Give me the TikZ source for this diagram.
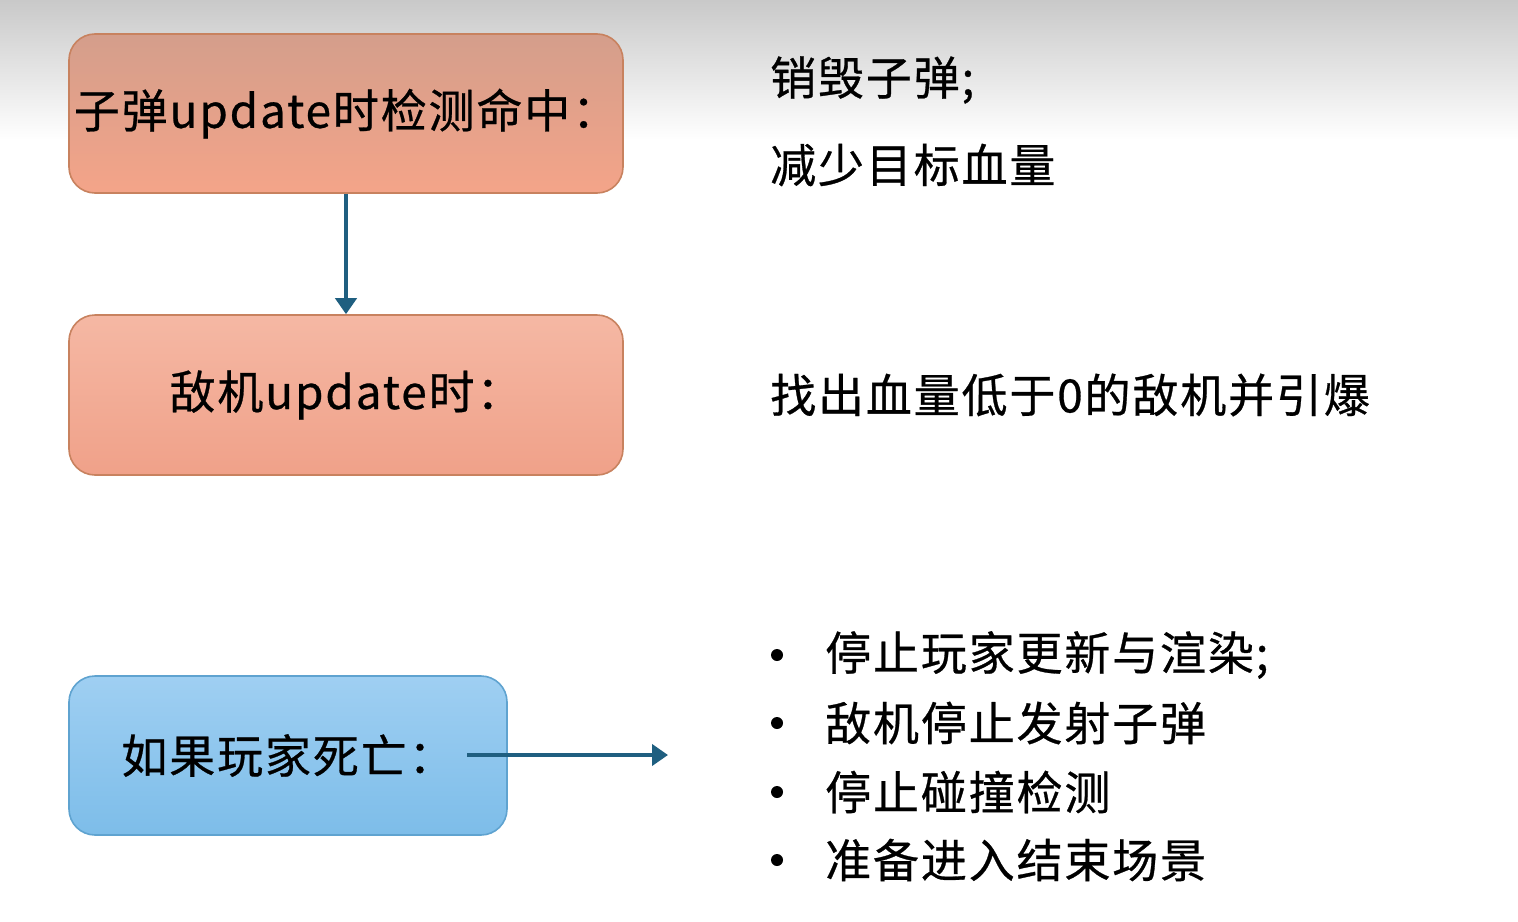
\documentclass[tikz,border=0pt]{standalone}
\usepackage{fontspec}
\setmainfont{Noto Sans CJK SC}[LetterSpace=4, FakeBold=0.6]
\usetikzlibrary{arrows.meta}
\definecolor{arrowblue}{HTML}{1F5F80}
\definecolor{hitTop}{HTML}{D49E8B}
\definecolor{hitBot}{HTML}{F4A489}
\definecolor{enemyTop}{HTML}{F5B8A4}
\definecolor{enemyBot}{HTML}{F0A189}
\definecolor{boxEdge}{HTML}{C8825F}
\definecolor{deadTop}{HTML}{9FCFF2}
\definecolor{deadBot}{HTML}{7DBDE9}
\definecolor{deadEdge}{HTML}{5FA3D0}
\definecolor{skyTop}{HTML}{C9C9C9}
\tikzset{
  stagebox/.style={draw, line width=1.6pt, rounded corners=26pt,
    inner sep=0pt, font=\fontsize{46}{52}\selectfont},
  note/.style={anchor=west, inner sep=0pt, font=\fontsize{46}{52}\selectfont},
  flow/.style={draw=arrowblue, line width=4.5pt,
    -{Triangle[length=16pt,width=21pt]}},
  dot/.style={circle, fill=black, inner sep=0pt, minimum size=12pt}
}
\begin{document}
\begin{tikzpicture}[x=1pt,y=-1pt]
  % page background with a soft grey band along the top
  \fill[white] (0,0) rectangle (1518,921);
  \shade[top color=skyTop, bottom color=white] (0,0) rectangle (1518,140);
  \useasboundingbox (0,0) rectangle (1518,921);

  % stage boxes
  \node[stagebox, draw=boxEdge, top color=hitTop, bottom color=hitBot,
        minimum width=554pt, minimum height=159pt] (hit) at (346,113.5)
        {子弹update时检测命中：};
  \node[stagebox, draw=boxEdge, top color=enemyTop, bottom color=enemyBot,
        minimum width=554pt, minimum height=160pt] (enemy) at (346,395)
        {敌机update时：};
  \node[stagebox, draw=deadEdge, top color=deadTop, bottom color=deadBot,
        minimum width=438pt, minimum height=159pt] (dead) at (288,755.5)
        {如果玩家死亡：};

  % connectors
  \draw[flow] (hit.south) -- (enemy.north);
  \coordinate (deadOut) at (467,755);
  \coordinate (deadTo) at (668,755);
  \draw[flow] (deadOut) -- (deadTo);

  % notes on the right
  \node[note] (n1) at (770,80) {销毁子弹;};
  \node[note] (n2) at (770,165) {减少目标血量};
  \node[note] (n3) at (770,395) {找出血量低于0的敌机并引爆};

  % bullet list
  \node[dot] (b1) at (777,655) {};
  \node[dot] (b2) at (777,723) {};
  \node[dot] (b3) at (777,792) {};
  \node[dot] (b4) at (777,860) {};
  \node[note] (l1) at (825,655) {停止玩家更新与渲染;};
  \node[note] (l2) at (825,723) {敌机停止发射子弹};
  \node[note] (l3) at (825,792) {停止碰撞检测};
  \node[note] (l4) at (825,860) {准备进入结束场景};
\end{tikzpicture}
\end{document}
